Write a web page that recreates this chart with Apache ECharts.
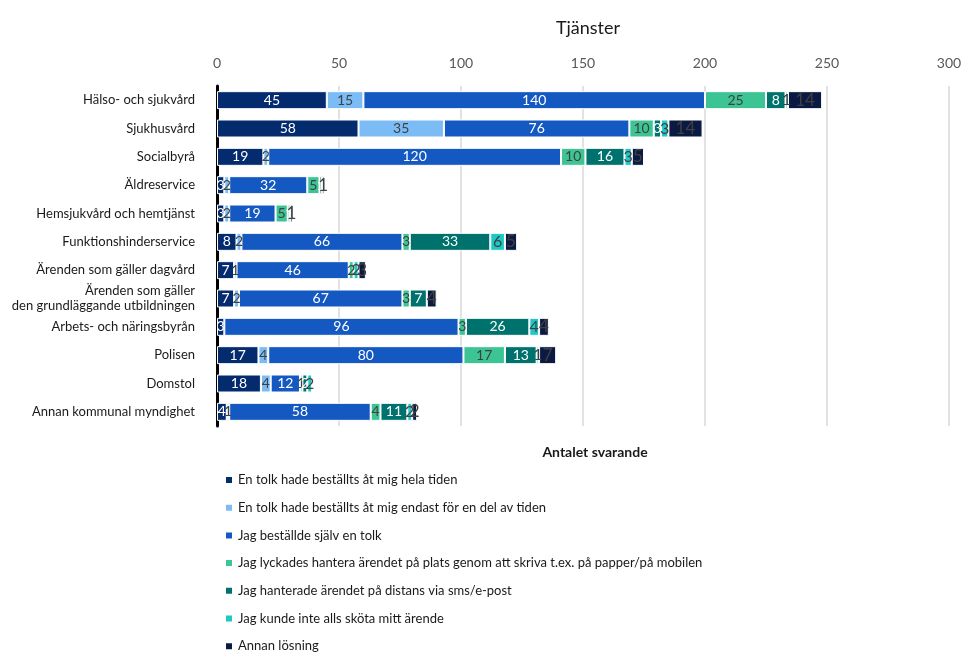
<!DOCTYPE html>
<html>
<head>
<meta charset="utf-8">
<script src="https://cdn.jsdelivr.net/npm/echarts@6/dist/echarts.min.js"></script>
<style>
html,body{margin:0;padding:0;background:#fff;}
#chart{width:962px;height:652px;}
</style>
</head>
<body>
<div id="chart"></div>
<script>
// Categories (services), top to bottom
const categories = [
  'Hälso- och sjukvård',
  'Sjukhusvård',
  'Socialbyrå',
  'Äldreservice',
  'Hemsjukvård och hemtjänst',
  'Funktionshinderservice',
  'Ärenden som gäller dagvård',
  'Ärenden som gäller\nden grundläggande utbildningen',
  'Arbets- och näringsbyrån',
  'Polisen',
  'Domstol',
  'Annan kommunal myndighet'
];

// Number of respondents per answer option
const tolkHelaTiden   = [45, 58, 19, 3, 3, 8, 7, 7, 3, 17, 18, 4];
const tolkDelAvTiden  = [15, 35, 2, 2, 2, 2, 1, 2, 0, 4, 4, 1];
const bestalldeSjalv  = [140, 76, 120, 32, 19, 66, 46, 67, 96, 80, 12, 58];
const skrivaPaPlats   = [25, 10, 10, 5, 5, 3, 2, 3, 3, 17, 1, 4];
const distansSms      = [8, 3, 16, 1, 1, 33, 0, 7, 26, 13, 2, 11];
const kundeInte       = [1, 3, 3, 0, 0, 6, 2, 0, 4, 1, 2, 2];
const annanLosning    = [14, 14, 5, 1, 1, 5, 3, 4, 4, 7, 0, 2];

const seriesNames = [
  'En tolk hade beställts åt mig hela tiden',
  'En tolk hade beställts åt mig endast för en del av tiden',
  'Jag beställde själv en tolk',
  'Jag lyckades hantera ärendet på plats genom att skriva t.ex. på papper/på mobilen',
  'Jag hanterade ärendet på distans via sms/e-post',
  'Jag kunde inte alls sköta mitt ärende',
  'Annan lösning'
];
const seriesData = [tolkHelaTiden, tolkDelAvTiden, bestalldeSjalv, skrivaPaPlats, distansSms, kundeInte, annanLosning];

const xTicks = { min: 0, max: 300, interval: 50 };

const colors = ['#032b6e', '#7cbcf6', '#1459c1', '#3dc494', '#00726d', '#1cc9c6', '#0b1a42'];
const labelColors = ['#ffffff', '#404040', '#ffffff', '#404040', '#ffffff', '#404040', '#404040'];
const labelSizes = [14, 14, 14, 14, 14, 16, 17];

const FONT = "Lato, 'Liberation Sans', sans-serif";

const chart = echarts.init(document.getElementById('chart'), null, { renderer: 'canvas' });

const series = seriesData.map((arr, i) => ({
  name: seriesNames[i],
  type: 'bar',
  stack: 'total',
  barWidth: 18,
  data: arr.map(v => (v === 0 ? '-' : v)),
  itemStyle: { color: colors[i], borderColor: '#ffffff', borderWidth: 1 },
  label: {
    show: true,
    position: 'inside',
    color: labelColors[i],
    fontSize: labelSizes[i],
    fontFamily: FONT,
    formatter: p => (p.value ? String(p.value) : '')
  },
  emphasis: { disabled: true }
}));

chart.setOption({
  animation: false,
  color: colors,
  title: [
    {
      text: 'Tjänster',
      left: 583,
      top: 14,
      textAlign: 'center',
      textStyle: { fontFamily: FONT, fontSize: 18, fontWeight: 'normal', color: '#1a1a1a' }
    },
    {
      text: 'Antalet svarande',
      left: 590,
      top: 440,
      textAlign: 'center',
      textStyle: { fontFamily: FONT, fontSize: 14, fontWeight: 'bold', color: '#1a1a1a' }
    }
  ],
  grid: { left: 217, right: 13, top: 86, bottom: 226, containLabel: false, outerBoundsMode: 'none' },
  xAxis: {
    type: 'value',
    position: 'top',
    min: xTicks.min,
    max: xTicks.max,
    interval: xTicks.interval,
    axisLine: { show: false },
    axisTick: { show: false },
    axisLabel: { color: '#595959', fontSize: 14, fontFamily: FONT, margin: 16 },
    splitLine: { show: true, lineStyle: { color: '#d9d9d9', width: 1.5 } }
  },
  yAxis: {
    type: 'category',
    inverse: true,
    data: categories,
    axisLine: { show: true, lineStyle: { color: '#000000', width: 3 } },
    axisTick: { show: false },
    axisLabel: {
      color: '#1a1a1a',
      fontSize: 13,
      fontFamily: FONT,
      margin: 22,
      align: 'right',
      lineHeight: 15
    }
  },
  legend: {
    orient: 'vertical',
    left: 219,
    top: 467,
    height: 300,
    itemWidth: 8,
    itemHeight: 8,
    itemGap: 11.7,
    icon: 'rect',
    textStyle: { fontFamily: FONT, fontSize: 13, color: '#1a1a1a', lineHeight: 16 },
    data: seriesNames
  },
  series: series
});
</script>
</body>
</html>
